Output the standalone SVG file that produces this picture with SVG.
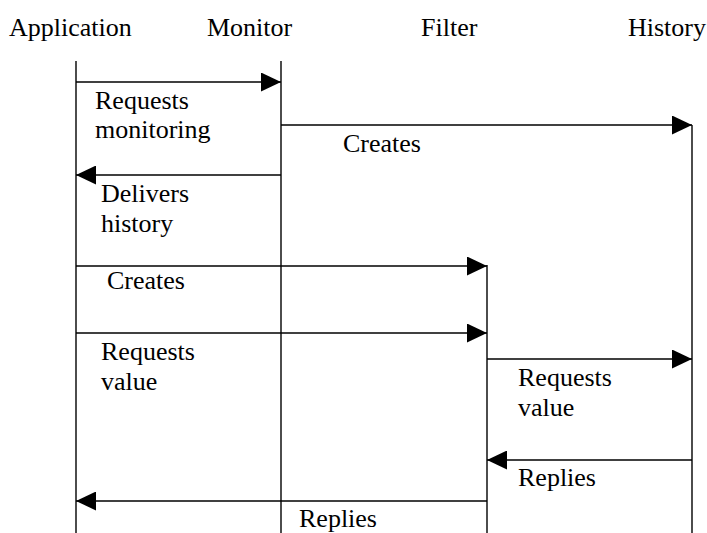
<svg xmlns="http://www.w3.org/2000/svg" width="707" height="533" viewBox="0 0 707 533" font-family="'Liberation Serif', 'Times New Roman', serif" font-size="26">
  <style>
    .t { font-family: "Liberation Serif", "Times New Roman", serif; font-size: 26px; fill: #000; }
    .life { stroke: #000; stroke-width: 1.4; fill: none; }
    .msg { stroke: #000; stroke-width: 1.6; fill: none; marker-end: url(#head); }
  </style>
  <defs>
    <marker id="head" markerUnits="userSpaceOnUse" markerWidth="20" markerHeight="19" refX="20" refY="9.5" orient="auto">
      <path d="M0,0 L20,9.5 L0,19 Z" fill="#000"/>
    </marker>
  </defs>

  <!-- participants with their lifelines -->
  <g id="application">
    <text class="t" x="9" y="36">Application</text>
    <line class="life" x1="76" y1="61" x2="76" y2="533"/>
  </g>
  <g id="monitor">
    <text class="t" x="207" y="36">Monitor</text>
    <line class="life" x1="281" y1="61" x2="281" y2="533"/>
  </g>
  <g id="filter">
    <text class="t" x="421" y="36">Filter</text>
    <line class="life" x1="487" y1="265" x2="487" y2="533"/>
  </g>
  <g id="history">
    <text class="t" x="628" y="36">History</text>
    <line class="life" x1="692" y1="125" x2="692" y2="533"/>
  </g>

  <!-- messages -->
  <g id="connectors">
    <line class="msg" x1="76" y1="82" x2="281" y2="82"/>
    <line class="msg" x1="281" y1="125" x2="692" y2="125"/>
    <line class="msg" x1="281" y1="175" x2="76" y2="175"/>
    <line class="msg" x1="76" y1="266" x2="487" y2="266"/>
    <line class="msg" x1="76" y1="333" x2="487" y2="333"/>
    <line class="msg" x1="487" y1="359" x2="692" y2="359"/>
    <line class="msg" x1="692" y1="460" x2="487" y2="460"/>
    <line class="msg" x1="487" y1="501" x2="76" y2="501"/>
  </g>

  <!-- message labels -->
  <g id="message-labels">
    <text class="t" x="95" y="109">Requests</text>
    <text class="t" x="95" y="138">monitoring</text>
    <text class="t" x="343" y="152">Creates</text>
    <text class="t" x="101" y="202">Delivers</text>
    <text class="t" x="101" y="232">history</text>
    <text class="t" x="107" y="289">Creates</text>
    <text class="t" x="101" y="360">Requests</text>
    <text class="t" x="101" y="390">value</text>
    <text class="t" x="518" y="386">Requests</text>
    <text class="t" x="518" y="416">value</text>
    <text class="t" x="518" y="486">Replies</text>
    <text class="t" x="299" y="527">Replies</text>
  </g>
</svg>
